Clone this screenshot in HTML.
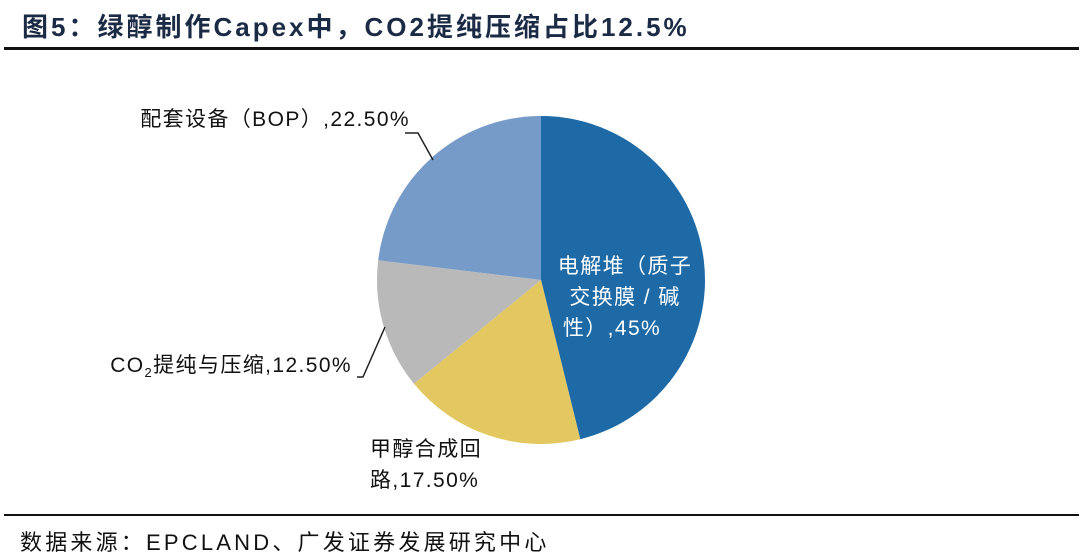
<!DOCTYPE html>
<html><head><meta charset="utf-8">
<style>
html,body{margin:0;padding:0;background:#fff;}
body{width:1080px;height:558px;position:relative;overflow:hidden;font-family:"Liberation Sans","Noto Sans CJK SC",sans-serif;}
.title{position:absolute;left:22px;top:7px;font-size:26px;font-weight:bold;color:#1c2b45;white-space:nowrap;letter-spacing:3px;}
.rule{position:absolute;left:4px;width:1075px;height:3px;background:#111;}
.src{position:absolute;left:20px;top:525px;font-size:22px;color:#111;white-space:nowrap;letter-spacing:3.2px;}
</style></head><body>
<div class="title">图5：绿醇制作Capex中，CO2提纯压缩占比12.5%</div>
<div class="rule" style="top:47px"></div>
<svg id="chart" width="1080" height="558" style="position:absolute;left:0;top:0"></svg>
<div class="rule" style="top:514px;height:2px"></div>
<div class="src">数据来源：EPCLAND、广发证券发展研究中心</div>
<script>
const categories = ["电解堆（质子交换膜/碱性）","甲醇合成回路","CO2提纯与压缩","配套设备（BOP）"];
const values = [45, 17.5, 12.5, 22.5];
const valueLabels = ["45%","17.50%","12.50%","22.50%"];
const colors = ["#1e6aa6","#e3c862","#b9b9b9","#779bc8"];
const NS="http://www.w3.org/2000/svg";
const svg=document.getElementById('chart');
const cx=541, cy=280, r=164;
const total=values.reduce((a,b)=>a+b,0);
function pt(a,rr){return [cx+rr*Math.sin(a), cy-rr*Math.cos(a)];}
let a0=0;
values.forEach((v,i)=>{
  const a1=a0+v/total*2*Math.PI;
  const p0=pt(a0,r), p1=pt(a1,r);
  const large=(a1-a0)>Math.PI?1:0;
  const path=document.createElementNS(NS,'path');
  path.setAttribute('d',`M${cx},${cy}L${p0[0]},${p0[1]}A${r},${r} 0 ${large} 1 ${p1[0]},${p1[1]}Z`);
  path.setAttribute('fill',colors[i]);
  
  
  svg.appendChild(path);
  a0=a1;
});
function txt(x,y,s,fill,anchor,name){
  const t=document.createElementNS(NS,'text');
  t.setAttribute('x',x);t.setAttribute('y',y);t.setAttribute('fill',fill);
  t.setAttribute('font-size','21');t.setAttribute('text-anchor',anchor||'start');
  t.setAttribute('letter-spacing','1.4');
  t.setAttribute('font-family','"Liberation Sans","Noto Sans CJK SC",sans-serif');
  t.innerHTML=s;
  
  
  svg.appendChild(t);
}
function line(pts,name){
  const l=document.createElementNS(NS,'polyline');
  l.setAttribute('points',pts);l.setAttribute('fill','none');l.setAttribute('stroke','#222');l.setAttribute('stroke-width','1.5');
  
  
  svg.appendChild(l);
}
txt(625,273,'电解堆（质子','#fff','middle','label-electrolyzer');
txt(625,304,'交换膜 / 碱','#fff','middle','label-electrolyzer');
txt(612,335,'性）,'+valueLabels[0],'#fff','middle','label-electrolyzer');
txt(370,456,'甲醇合成回','#111','start','label-methanol-loop');
txt(370,487,'路,'+valueLabels[1],'#111','start','label-methanol-loop');
txt(352,372,'CO<tspan font-size="13" dy="5">2</tspan><tspan dy="-5">提纯与压缩,'+valueLabels[2]+'</tspan>','#111','end','label-co2');
txt(410,126,'配套设备（BOP）,'+valueLabels[3],'#111','end','label-bop');
line('405,133 418,133 433,160','leader-bop');
line('357,377 363,377 385,327','leader-co2');
</script>
</body></html>
